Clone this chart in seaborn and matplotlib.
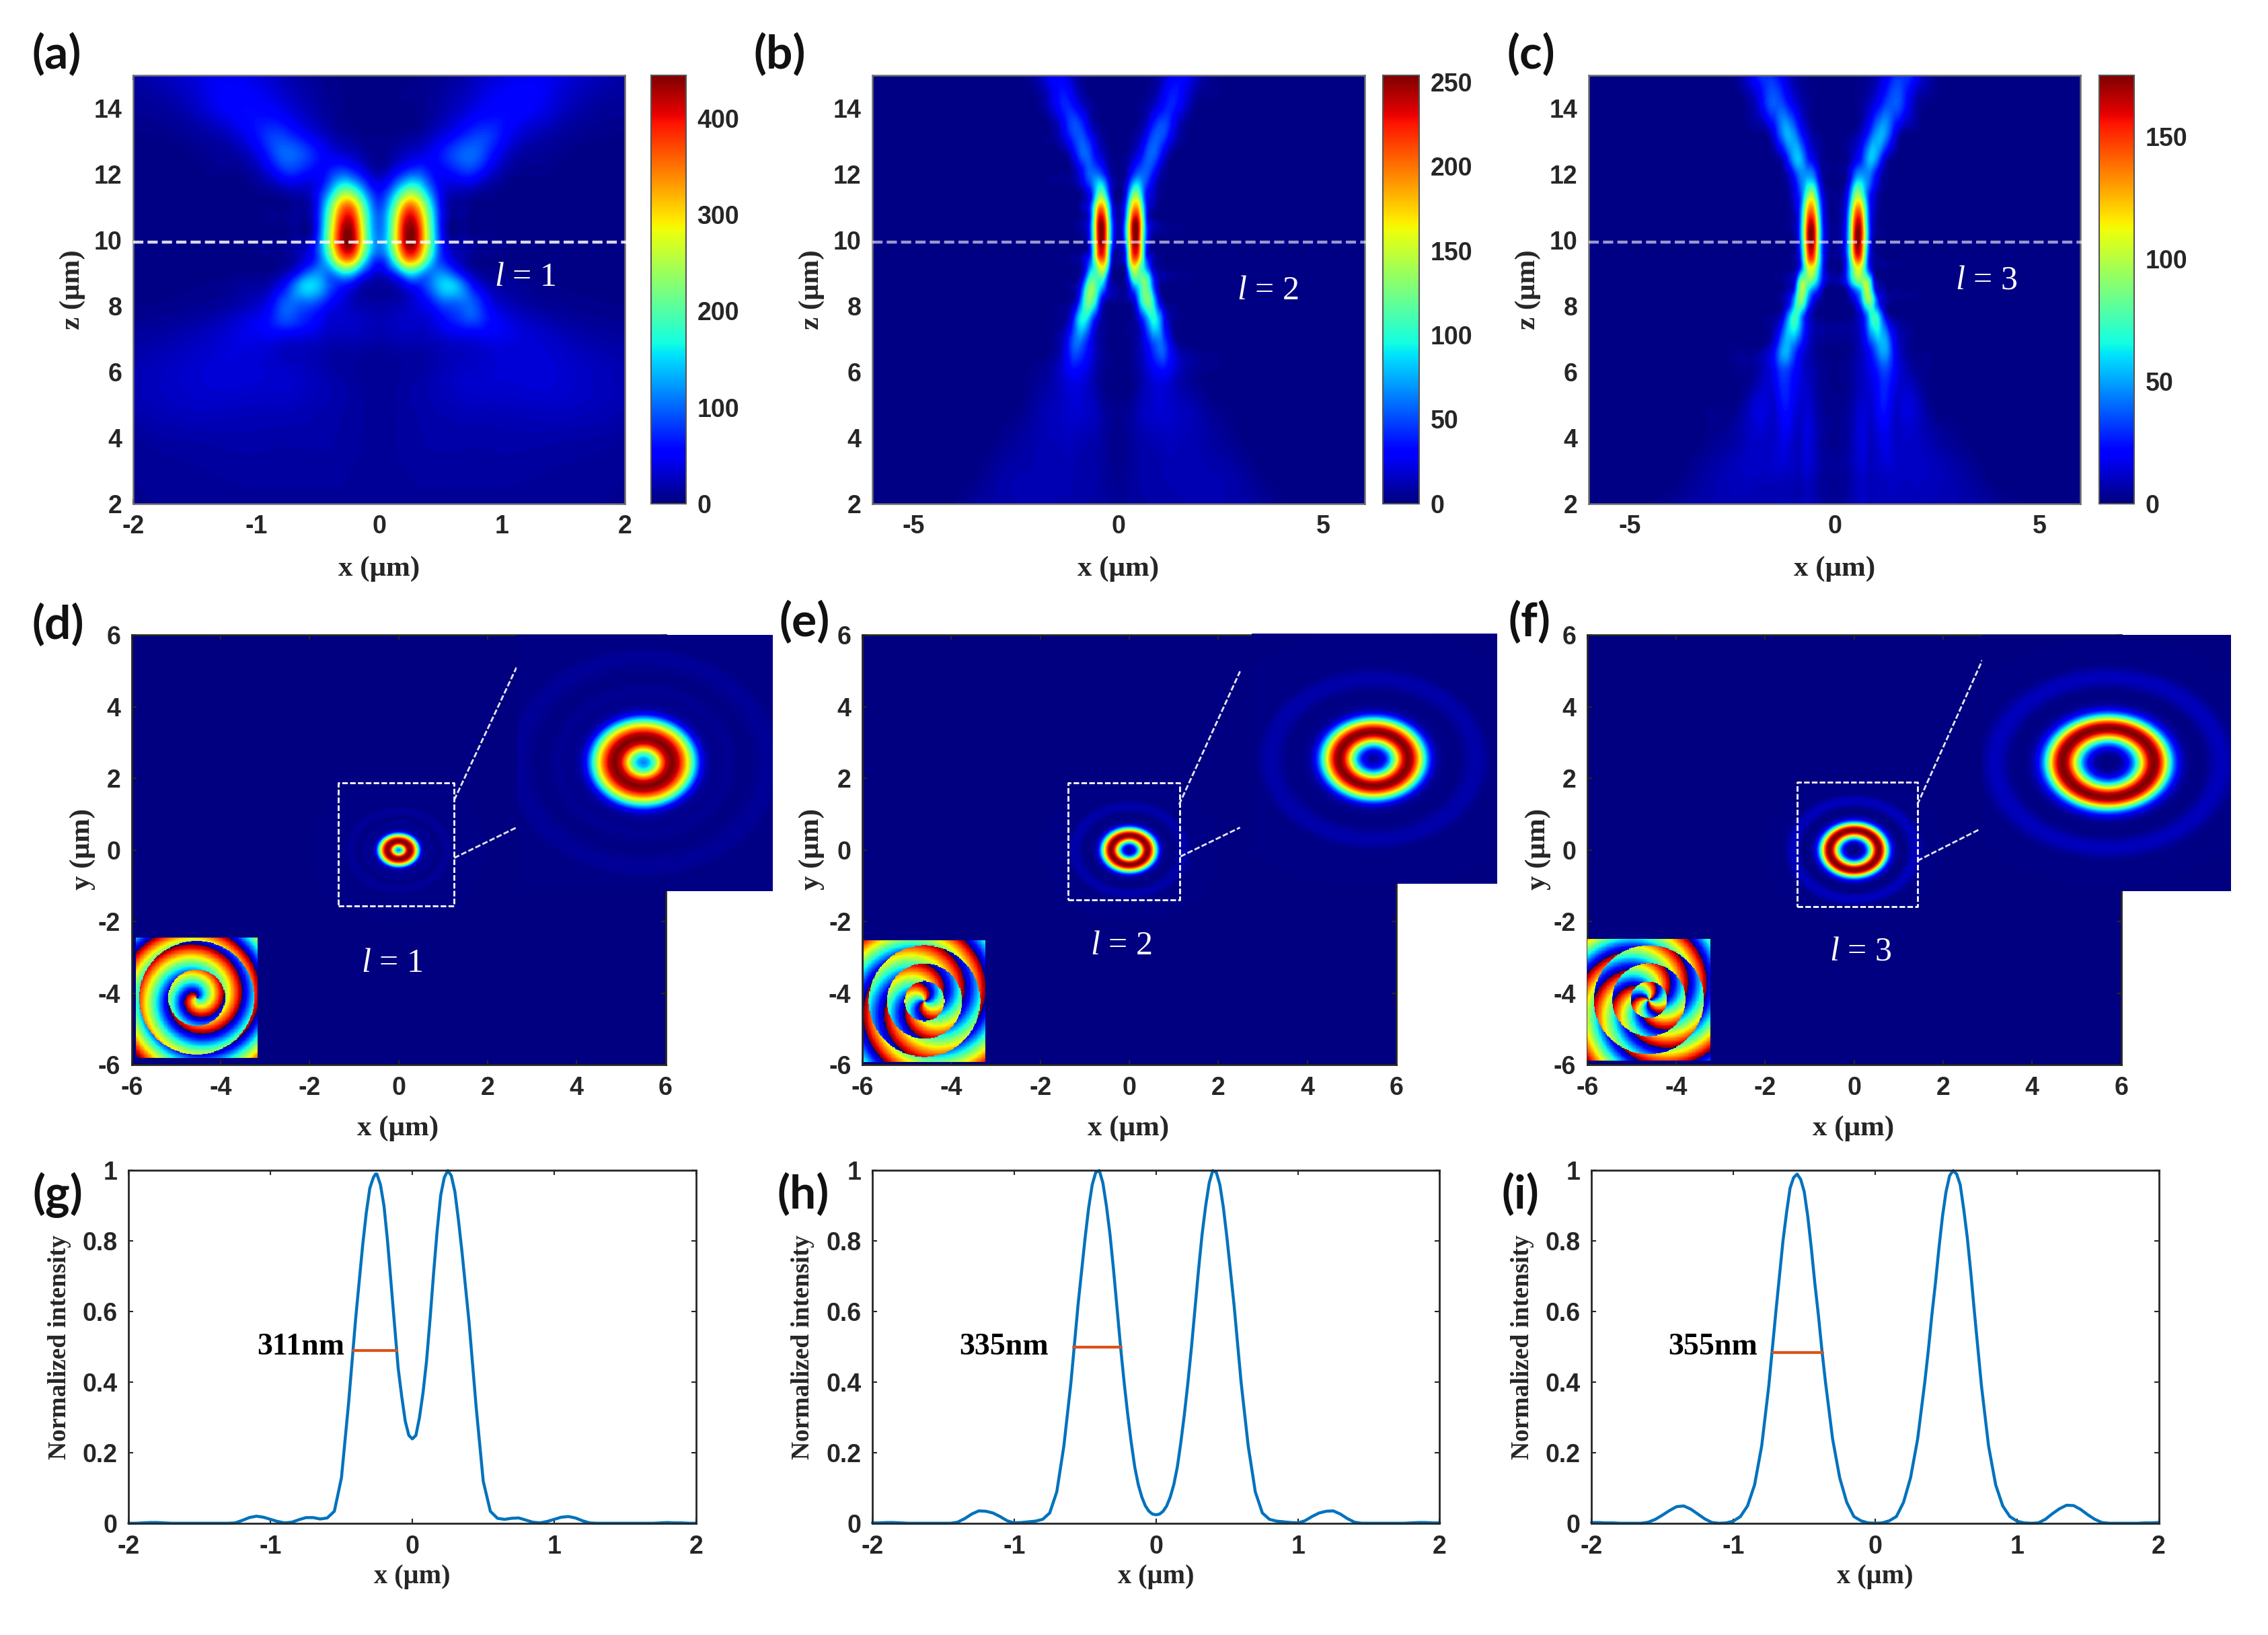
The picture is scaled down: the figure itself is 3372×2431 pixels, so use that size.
import numpy as np
import matplotlib
matplotlib.use('Agg')
import matplotlib.pyplot as plt
import matplotlib.tri as mtri
from matplotlib.cm import ScalarMappable
from matplotlib.colors import Normalize
import seaborn as sns

sns.set_theme(style='ticks')
plt.rcParams['font.family'] = ['Liberation Sans', 'DejaVu Sans']
plt.rcParams['font.weight'] = 'bold'
plt.rcParams['axes.unicode_minus'] = False
plt.rcParams['mathtext.fontset'] = 'custom'
plt.rcParams['mathtext.it'] = 'Liberation Serif:italic:normal'
plt.rcParams['mathtext.rm'] = 'Liberation Serif:normal'

jet = matplotlib.colormaps['jet']
DARK = '#262626'
W, H = 1568, 1130

# x-z intensity, half field (mirrored about x=0)
xa = [0, .1, .18, .27, .36, .45, .55, .65, .75, .85, 1, 1.25, 1.5, 2]
za = [2, 3, 4, 5, 6, 7, 7.6, 8.1, 8.6, 9, 9.5, 10.2, 10.9, 11.5, 12, 12.6, 13.2, 14, 15]
field_a = [
    [8, 8, 8, 9, 9, 9, 9, 9, 9, 9, 9, 9, 8, 6],
    [10, 10, 10, 11, 12, 12, 12, 12, 12, 12, 12, 11, 10, 7],
    [10, 10, 11, 12, 14, 15, 15, 15, 15, 15, 16, 16, 15, 10],
    [10, 10, 12, 14, 16, 18, 20, 22, 24, 24, 24, 26, 26, 18],
    [8, 8, 10, 12, 14, 18, 22, 26, 28, 30, 32, 34, 30, 18],
    [16, 18, 20, 20, 20, 24, 30, 34, 36, 40, 40, 32, 22, 12],
    [20, 22, 26, 28, 30, 40, 60, 75, 88, 70, 42, 22, 12, 6],
    [12, 14, 18, 30, 45, 70, 95, 100, 95, 60, 24, 10, 6, 3],
    [10, 14, 30, 55, 75, 115, 150, 125, 65, 28, 12, 6, 3, 2],
    [30, 60, 115, 160, 120, 110, 105, 60, 22, 8, 4, 2, 1, 1],
    [85, 160, 300, 370, 265, 130, 50, 20, 8, 4, 3, 2, 1, 1],
    [107, 205, 370, 445, 320, 147, 18, 6, 3, 3, 2, 2, 1, 1],
    [90, 175, 310, 375, 270, 125, 22, 8, 4, 3, 2, 2, 1, 1],
    [55, 100, 170, 215, 160, 80, 30, 22, 18, 10, 4, 2, 2, 1],
    [20, 40, 70, 95, 85, 55, 50, 62, 66, 44, 14, 4, 2, 2],
    [6, 10, 20, 30, 38, 50, 72, 92, 100, 82, 36, 10, 4, 2],
    [3, 3, 5, 8, 14, 26, 40, 58, 74, 80, 58, 22, 10, 3],
    [2, 2, 3, 3, 6, 10, 18, 26, 36, 46, 54, 48, 24, 8],
    [1, 1, 2, 2, 3, 5, 8, 12, 18, 26, 36, 44, 36, 14],
]

xb = [0, .15, .28, .4, .52, .65, .8, .95, 1.1, 1.25, 1.4, 1.6, 1.8, 2.2, 2.8, 3.4, 4, 6]
zb = [2, 3, 4, 5, 6, 6.8, 7.5, 8.1, 8.7, 9.2, 9.6, 10.1, 10.6, 11.1, 11.6, 12.1, 12.7, 13.5, 14.2, 15]
field_b = [
    [4, 5, 6, 6, 7, 7, 8, 8, 9, 9, 9, 10, 10, 10, 9, 7, 2, 0],
    [3, 4, 5, 7, 8, 9, 9, 9, 10, 11, 11, 11, 11, 10, 8, 2, 0, 0],
    [3, 3, 5, 7, 9, 10, 11, 12, 13, 14, 13, 12, 11, 8, 3, 0, 0, 0],
    [2, 3, 4, 7, 11, 14, 16, 18, 18, 16, 14, 12, 10, 4, 1, 0, 0, 0],
    [1, 1, 2, 4, 8, 14, 22, 28, 30, 24, 16, 9, 5, 2, 0, 0, 0, 0],
    [1, 1, 2, 5, 10, 22, 40, 55, 52, 28, 10, 3, 1, 0, 0, 0, 0, 0],
    [1, 1, 2, 6, 18, 45, 85, 85, 38, 10, 3, 1, 0, 0, 0, 0, 0, 0],
    [1, 2, 6, 20, 70, 115, 110, 45, 8, 2, 1, 0, 0, 0, 0, 0, 0, 0],
    [2, 5, 40, 90, 105, 125, 70, 15, 3, 1, 0, 0, 0, 0, 0, 0, 0, 0],
    [3, 8, 110, 165, 125, 75, 25, 4, 1, 0, 0, 0, 0, 0, 0, 0, 0, 0],
    [5, 25, 150, 229, 180, 55, 10, 2, 1, 0, 0, 0, 0, 0, 0, 0, 0, 0],
    [8, 50, 170, 254, 198, 68, 8, 2, 1, 0, 0, 0, 0, 0, 0, 0, 0, 0],
    [7, 45, 160, 241, 195, 65, 10, 3, 1, 0, 0, 0, 0, 0, 0, 0, 0, 0],
    [4, 28, 112, 173, 140, 50, 14, 4, 1, 0, 0, 0, 0, 0, 0, 0, 0, 0],
    [2, 12, 55, 96, 85, 48, 24, 8, 2, 0, 0, 0, 0, 0, 0, 0, 0, 0],
    [1, 4, 18, 38, 50, 55, 44, 22, 7, 1, 0, 0, 0, 0, 0, 0, 0, 0],
    [0, 1, 5, 12, 22, 40, 56, 50, 28, 10, 3, 0, 0, 0, 0, 0, 0, 0],
    [0, 0, 1, 2, 5, 12, 30, 46, 50, 38, 20, 6, 1, 0, 0, 0, 0, 0],
    [0, 0, 0, 1, 2, 4, 8, 16, 28, 38, 36, 22, 8, 1, 0, 0, 0, 0],
    [0, 0, 0, 0, 1, 2, 3, 6, 12, 22, 30, 32, 20, 3, 0, 0, 0, 0],
]

xc = [0, .2, .35, .45, .57, .7, .82, .95, 1.1, 1.25, 1.4, 1.6, 1.8, 2.2, 2.8, 3.4, 4, 6]
zc = [2, 3, 4, 5, 6, 6.7, 7.6, 8.1, 8.6, 9.1, 9.5, 10, 10.5, 11, 11.5, 12, 12.5, 13.3, 14.2, 15]
field_c = [
    [3, 4, 6, 7, 9, 10, 8, 8, 9, 9, 9, 8, 8, 8, 7, 6, 3, 0],
    [3, 4, 5, 8, 10, 12, 9, 9, 10, 11, 11, 10, 10, 10, 7, 3, 0, 0],
    [2, 3, 5, 8, 12, 14, 10, 10, 14, 16, 12, 10, 11, 8, 3, 0, 0, 0],
    [2, 2, 4, 6, 10, 12, 12, 14, 22, 24, 15, 12, 14, 5, 1, 0, 0, 0],
    [1, 2, 3, 5, 8, 10, 14, 20, 28, 32, 24, 12, 7, 2, 0, 0, 0, 0],
    [1, 1, 2, 3, 6, 12, 20, 32, 48, 50, 28, 9, 3, 1, 0, 0, 0, 0],
    [1, 1, 2, 3, 8, 20, 45, 72, 55, 20, 6, 2, 1, 0, 0, 0, 0, 0],
    [1, 1, 3, 8, 22, 55, 85, 62, 20, 5, 1, 0, 0, 0, 0, 0, 0, 0],
    [1, 4, 25, 45, 63, 85, 92, 30, 6, 1, 0, 0, 0, 0, 0, 0, 0, 0],
    [2, 7, 45, 80, 108, 80, 35, 6, 1, 0, 0, 0, 0, 0, 0, 0, 0, 0],
    [3, 9, 55, 112, 154, 105, 32, 5, 1, 0, 0, 0, 0, 0, 0, 0, 0, 0],
    [2, 10, 58, 126, 175, 122, 44, 5, 1, 0, 0, 0, 0, 0, 0, 0, 0, 0],
    [2, 9, 55, 120, 166, 118, 44, 8, 2, 0, 0, 0, 0, 0, 0, 0, 0, 0],
    [1, 7, 42, 94, 131, 95, 38, 12, 3, 0, 0, 0, 0, 0, 0, 0, 0, 0],
    [1, 4, 25, 58, 84, 62, 36, 18, 5, 1, 0, 0, 0, 0, 0, 0, 0, 0],
    [0, 2, 10, 28, 44, 46, 44, 30, 12, 3, 0, 0, 0, 0, 0, 0, 0, 0],
    [0, 1, 4, 10, 18, 32, 50, 54, 34, 12, 3, 0, 0, 0, 0, 0, 0, 0],
    [0, 0, 1, 2, 5, 12, 22, 38, 50, 46, 28, 8, 2, 0, 0, 0, 0, 0],
    [0, 0, 0, 1, 2, 4, 7, 12, 20, 30, 36, 34, 18, 2, 0, 0, 0, 0],
    [0, 0, 0, 0, 1, 1, 3, 5, 10, 16, 24, 30, 30, 8, 0, 0, 0, 0],
]

# normalized line profiles, -2..2 um every 0.05 um
x_line = np.round(np.arange(-40, 41) * 0.05, 2)
g_left = [.001, .001, .002, .003, .003, .002, .001, .001, .001, .001, .001, .001, .001, .001, .001, .002,
          .009, .017, .021, .018, .012, .006, .002, .004, .011, .017, .017, .013, .016, .035, .13, .34,
          .58, .79, .95, .99, .90, .68, .44, .29]
g_right = [.24, .30, .46, .71, .93, 1.0, .94, .77, .57, .33, .12, .035, .015, .012, .015, .016, .01, .004,
           .002, .006, .012, .018, .02, .016, .008, .002, .001, .001, .001, .001, .001, .001, .001, .001,
           .001, .002, .003, .002, .002, .001, .001]
h_right = [.025, .035, .075, .16, .31, .50, .72, .90, 1.0, .96, .81, .62, .40, .22, .09, .03, .012, .007,
           .005, .003, .002, .008, .02, .03, .035, .036, .027, .014, .004, .001, .001, .001, .001, .001,
           .001, .001, .002, .003, .003, .002, .002]
h_left = h_right[:0:-1]
i_left = [.003, .003, .002, .002, .001, .001, .001, .001, .004, .012, .024, .037, .048, .05, .041, .027,
          .013, .003, .001, .002, .007, .02, .05, .11, .22, .39, .60, .80, .95, .99, .94, .78, .59, .40,
          .24, .13, .06, .02, .008, .002]
i_right = [.001, .002, .008, .02, .06, .13, .24, .40, .59, .78, .94, 1.0, .96, .81, .60, .39, .22, .11,
           .05, .02, .007, .002, .001, .002, .012, .028, .042, .052, .051, .04, .025, .012, .003, .001,
           .001, .001, .001, .001, .002, .002, .003]

# extra readings around the peaks and the valley, where the curve bends fast
g_extra_x = [-.325, -.275, -.26, -.225, -.175, -.125, -.075, -.025, .025, .075, .125, .175, .225, .275, .325, .375, .425]
g_extra_y = [.88, .98, .99, .96, .80, .56, .36, .25, .25, .37, .58, .83, .98, .985, .86, .67, .45]
h_extra_x = [-.475, -.425, -.375, -.325, -.275, -.225, -.175, -.125, -.075, -.025,
             .025, .075, .125, .175, .225, .275, .325, .375, .425, .475]
h_extra_y = [.895, .995, .965, .82, .61, .40, .23, .11, .05, .027, .027, .05, .11, .23, .40, .61, .82, .965, .995, .895]
i_extra_x = [-.675, -.625, -.575, -.525, -.475, -.425, -.375, .375, .425, .475, .525, .575, .625, .675]
i_extra_y = [.70, .88, .98, .975, .87, .68, .49, .49, .68, .87, .985, .99, .89, .71]

# fwhm bars: x start, x end, level
fwhm_g = [-.417, -.11, .49]
fwhm_h = [-.58, -.245, .5]
fwhm_i = [-.72, -.37, .485]
fwhm_labels = ['311nm', '335nm', '355nm']

# phase insets: radius (fraction of half width) and accumulated cycles, with half cycle jumps at the nulls
phase_r_d = [0, .47, .471, .95, .951, 1.45]
phase_c_d = [.15, 1.05, 1.55, 2.35, 2.85, 3.75]
phase_r_e = [0, .33, .331, .62, .621, .92, .921, 1.45]
phase_c_e = [.1, .6, 1.1, 1.5, 2, 2.4, 2.9, 3.7]
phase_r_f = [0, .3, .301, .6, .601, .9, .901, 1.45]
phase_c_f = [.1, .6, 1.1, 1.55, 2.05, 2.5, 3, 3.9]

cbar_max = [445, 254, 175]
cbar_ticks = [[0, 100, 200, 300, 400], [0, 50, 100, 150, 200, 250], [0, 50, 100, 150]]
orders = [1, 2, 3]


def place(l, t, r, b, **kw):
    return fig.add_axes([l / W, 1 - b / H, (r - l) / W, (b - t) / H], **kw)


def put(x, y, s, **kw):
    return fig.text(x / W, 1 - y / H, s, ha='center', va='center', **kw)


def style(ax, color=DARK, lw=2.0):
    ax.tick_params(direction='in', top=True, right=True, length=6, width=1.5, color=color,
                   labelsize=27, labelcolor=DARK, pad=12)
    for s in ax.spines.values():
        s.set_linewidth(lw)
        s.set_color(color)


def draw_xz(ax, x, z, table, vmax):
    x = np.array(x)
    table = np.array(table, dtype=float)
    xs = np.r_[-x[:0:-1], x]
    vals = np.hstack([table[:, :0:-1], table])
    X, Z = np.meshgrid(xs, z)
    tri = mtri.Triangulation(X.ravel(), Z.ravel())
    fine, fine_vals = mtri.UniformTriRefiner(tri).refine_field(vals.ravel(), subdiv=3)
    ax.tricontourf(fine, np.clip(fine_vals, 0, vmax), levels=np.linspace(0, vmax, 129), cmap=jet, extend='both')


def draw_ring(ax, profile, vmax=1.0):
    r = x_line[x_line >= 0]
    th = np.linspace(0, 2 * np.pi, 241)
    R, T = np.meshgrid(r, th)
    vals = np.tile(np.array(profile), (len(th), 1))
    ax.set_facecolor(jet(0))
    ax.contourf(R * np.cos(T), R * np.sin(T), vals, levels=np.linspace(0, vmax, 129), cmap=jet, extend='both')


fig = plt.figure(figsize=(33.73, 24.31), dpi=100)

# top row
top_boxes = [(92, 432, 450, 474), (603, 943, 956, 981), (1098, 1438, 1451, 1475)]
top_tables = [(xa, za, field_a), (xb, zb, field_b), (xc, zc, field_c)]
top_xlim = [(-2, 2), (-6, 6), (-6, 6)]
top_xticks = [[-2, -1, 0, 1, 2], [-5, 0, 5], [-5, 0, 5]]
top_alpha = [.85, .6, .6]
top_ltext = [(363, 192), (876, 201), (1373, 194)]
top_xlab = [262, 773, 1268]
top_ylab = [50, 561, 1056]

for k in range(3):
    l, r, cl, cr = top_boxes[k]
    ax = place(l, 52, r, 348)
    draw_xz(ax, *top_tables[k], cbar_max[k])
    ax.set_xlim(top_xlim[k])
    ax.set_ylim(2, 15)
    ax.set_xticks(top_xticks[k])
    ax.set_yticks([2, 4, 6, 8, 10, 12, 14])
    style(ax, color='#6e6e6e', lw=1.8)
    ax.tick_params(color=DARK, length=5)
    ax.plot([top_xlim[k][0], top_xlim[k][1] + (top_xlim[k][1] * 2 * (cl - r) / (r - l))], [9.93, 9.93],
            color='white', alpha=top_alpha[k], lw=3.2, dashes=(3.4, 1.4), clip_on=False, zorder=5)
    cax = place(cl, 52, cr, 348)
    cb = fig.colorbar(ScalarMappable(Normalize(0, cbar_max[k]), jet), cax=cax)
    cb.set_ticks(cbar_ticks[k])
    cb.ax.tick_params(direction='in', length=5, width=1.5, color=DARK, labelsize=27, labelcolor=DARK, pad=12)
    cb.outline.set_linewidth(1.5)
    cb.outline.set_color('#555555')
    put(*top_ltext[k], f'$l$ = {orders[k]}', color='white', fontsize=36, fontweight='normal', family='Liberation Serif')
    put(top_xlab[k], 393, 'x (μm)', fontsize=31, fontweight='bold', family='Liberation Serif', color=DARK)
    put(top_ylab[k], 200, 'z (μm)', fontsize=31, fontweight='bold', family='Liberation Serif', color=DARK, rotation=90)

# middle row
mid_boxes = [(91, 460), (596, 965), (1097, 1466)]
zoom_boxes = [(357, 439, 534, 616), (865, 438, 1035, 611), (1370, 439, 1542, 616)]
zoom_xlim = [(-1.11, 1.13), (-1.45, 1.47), (-1.53, 1.49)]
zoom_ylim = [(-1.35, 1.33), (-1.9, 1.9), (-2.07, 2.05)]
rect_x = [(-1.35, 1.25), (-1.37, 1.13), (-1.28, 1.42)]
rect_y = [(-1.56, 1.88), (-1.39, 1.88), (-1.58, 1.9)]
guide_top = [[(1.25, 1.4), (2.65, 5.1)], [(1.12, 1.27), (2.49, 4.99)], [(1.42, 1.27), (2.88, 5.3)]]
guide_low = [[(1.25, -.22), (2.65, .63)], [(1.15, -.18), (2.49, .63)], [(1.42, -.3), (2.82, .58)]]
inset_boxes = [(94, 648, 178, 731), (597, 650, 681, 734), (1097, 649, 1182, 733)]
mid_ltext = [(271, 666), (775, 654), (1286, 658)]
mid_xlab = [275, 780, 1281]
mid_ylab = [57, 561, 1063]
profiles = [g_right, h_right, i_right]
phase_r = [phase_r_d, phase_r_e, phase_r_f]
phase_c = [phase_c_d, phase_c_e, phase_c_f]

for k in range(3):
    l, r = mid_boxes[k]
    ax = place(l, 439, r, 736)
    draw_ring(ax, profiles[k])
    ax.set_xlim(-6, 6)
    ax.set_ylim(-6, 6)
    ax.set_xticks(range(-6, 7, 2))
    ax.set_yticks(range(-6, 7, 2))
    style(ax)
    ax.tick_params(length=5)
    x0, x1 = rect_x[k]
    y0, y1 = rect_y[k]
    ax.plot([x0, x1, x1, x0, x0], [y0, y0, y1, y1, y0], color='white', lw=2, dashes=(3, 1.2), zorder=5)
    for seg in (guide_top[k], guide_low[k]):
        ax.plot([seg[0][0], seg[1][0]], [seg[0][1], seg[1][1]], color='#e6e6f2', lw=2, dashes=(3, 1.2), zorder=5)

    zl, zt, zr, zb2 = zoom_boxes[k]
    zax = place(zl, zt, zr, zb2, zorder=3)
    draw_ring(zax, profiles[k])
    zax.set_xlim(zoom_xlim[k])
    zax.set_ylim(zoom_ylim[k])
    zax.set_xticks([])
    zax.set_yticks([])
    for s in zax.spines.values():
        s.set_visible(False)

    il, it, ir, ib = inset_boxes[k]
    iax = place(il, it, ir, ib, zorder=4)
    px = np.linspace(-1, 1, 150)
    PX, PY = np.meshgrid(px, px)
    phase = -orders[k] * np.arctan2(PY, PX) / (2 * np.pi) + np.interp(np.hypot(PX, PY), phase_r[k], phase_c[k])
    iax.imshow(phase % 1, cmap=jet, vmin=0, vmax=1, interpolation='nearest', origin='lower', aspect='auto')
    iax.axis('off')

    put(*mid_ltext[k], f'$l$ = {orders[k]}', color='white', fontsize=36, fontweight='normal',
        family='Liberation Serif', zorder=6)
    put(mid_xlab[k], 780, 'x (μm)', fontsize=31, fontweight='bold', family='Liberation Serif', color=DARK)
    put(mid_ylab[k], 587, 'y (μm)', fontsize=31, fontweight='bold', family='Liberation Serif', color=DARK, rotation=90)

# bottom row
bot_boxes = [(89, 481), (603, 995), (1100, 1492)]
curves = [g_left + g_right, h_left + h_right, i_left + i_right]
extras = [(g_extra_x, g_extra_y), (h_extra_x, h_extra_y), (i_extra_x, i_extra_y)]
fwhms = [fwhm_g, fwhm_h, fwhm_i]
fwhm_text = [208, 694, 1184]
bot_xlab = [285, 799, 1296]
bot_ylab = [41, 555, 1052]

for k in range(3):
    l, r = bot_boxes[k]
    ax = place(l, 809, r, 1053)
    xs = np.r_[x_line, extras[k][0]]
    ys = np.r_[curves[k], extras[k][1]]
    order = np.argsort(xs)
    sns.lineplot(x=xs[order], y=ys[order], ax=ax, color='#0072BD', linewidth=3.2, estimator=None, errorbar=None)
    ax.plot(fwhms[k][:2], [fwhms[k][2]] * 2, color='#D95319', lw=3)
    ax.set_xlim(-2, 2)
    ax.set_ylim(0, 1)
    ax.set_xticks([-2, -1, 0, 1, 2])
    ax.set_yticks([0, .2, .4, .6, .8, 1])
    ax.set_yticklabels(['0', '0.2', '0.4', '0.6', '0.8', '1'])
    style(ax)
    ax.tick_params(length=5)
    for line in ax.lines:
        line.set_clip_on(False)
    put(fwhm_text[k], 931, fwhm_labels[k], fontsize=33, fontweight='bold', family='Liberation Serif', color='black')
    put(bot_xlab[k], 1090, 'x (μm)', fontsize=29, fontweight='bold', family='Liberation Serif', color=DARK)
    put(bot_ylab[k], 931, 'Normalized intensity', fontsize=27, fontweight='bold', family='Liberation Serif',
        color=DARK, rotation=90)

# panel letters
letters = ['(a)', '(b)', '(c)', '(d)', '(e)', '(f)', '(g)', '(h)', '(i)']
letter_x = [39, 539, 1058, 40, 556, 1057, 40, 555, 1051]
letter_y = [38, 38, 38, 432, 430, 430, 826, 826, 826]
for s, lx, ly in zip(letters, letter_x, letter_y):
    put(lx, ly, s, fontsize=50, fontweight='bold', family='Lato', color='#111111')

fig.savefig('out.png', dpi=100)
